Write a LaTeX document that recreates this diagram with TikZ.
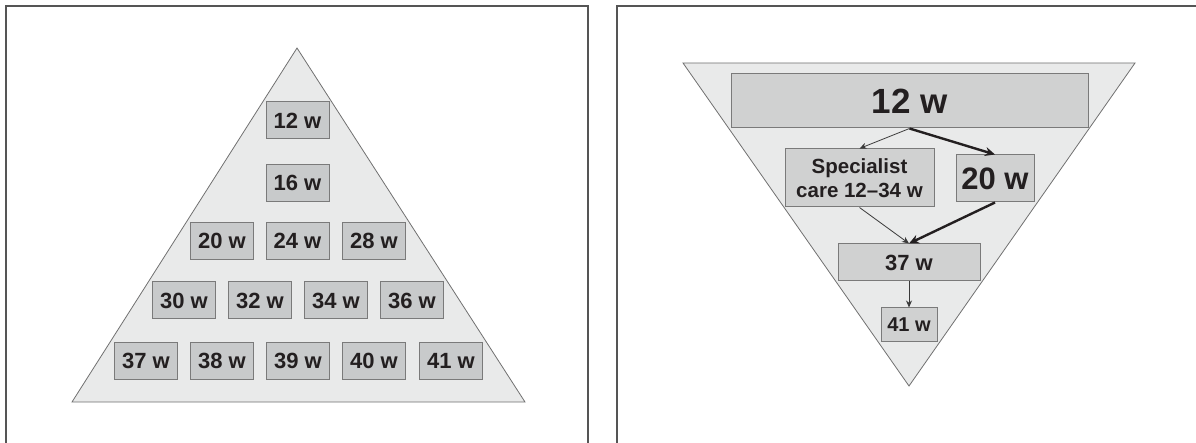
\documentclass[tikz,border=0pt]{standalone}
\usepackage{fontspec}
\setmainfont{Liberation Sans}
\usetikzlibrary{arrows.meta}
\definecolor{framec}{HTML}{555555}
\definecolor{trifill}{HTML}{E9EAEA}
\definecolor{triline}{HTML}{707070}
\definecolor{boxfillL}{HTML}{C8CACB}
\definecolor{boxfillR}{HTML}{D0D1D1}
\definecolor{boxline}{HTML}{7A7A7A}
\definecolor{txt}{HTML}{231F20}
\definecolor{thinarrow}{HTML}{3A3A3A}
\tikzset{
  framepath/.style={draw=framec, line width=1.4pt},
  tri/.style={draw=triline, fill=trifill, line width=0.8pt, line join=miter},
  wbox/.style={draw=boxline, fill=boxfillL, line width=1pt, inner sep=0pt,
    minimum width=63pt, minimum height=37pt, text=txt,
    font=\fontsize{22}{25}\selectfont\bfseries},
  rbox/.style={draw=boxline, fill=boxfillR, line width=1pt, inner sep=0pt,
    text=txt, align=center},
  thinarr/.style={draw=thinarrow, line width=0.8pt, -{Stealth[length=7pt,width=6pt]}},
  thickarr/.style={draw=txt, line width=2.4pt, -{Stealth[length=10pt,width=9pt]}}
}
\begin{document}
\begin{tikzpicture}[x=1pt,y=-1pt]
\useasboundingbox (0,0) rectangle (1196,443);
% frames
\draw[framepath] (6,445) -- (6,6) -- (588,6) -- (588,445);
\draw[framepath] (617,445) -- (617,6) -- (1198,6);
% left pyramid
\draw[tri] (297,48) -- (525,402) -- (72,402) -- cycle;
\node[wbox] (a12) at (297.5,120.5) {12 w};
\node[wbox] (a16) at (297.5,183) {16 w};
\node[wbox] (a20) at (222,241) {20 w};
\node[wbox] (a24) at (297.5,241) {24 w};
\node[wbox] (a28) at (374,241) {28 w};
\node[wbox] (a30) at (184,300.5) {30 w};
\node[wbox] (a32) at (260,300.5) {32 w};
\node[wbox] (a34) at (336,300.5) {34 w};
\node[wbox] (a36) at (412,300.5) {36 w};
\node[wbox] (a37) at (146,361) {37 w};
\node[wbox] (a38) at (222,361) {38 w};
\node[wbox] (a39) at (298,361) {39 w};
\node[wbox] (a40) at (374,361) {40 w};
\node[wbox] (a41) at (451,361) {41 w};
% right inverted pyramid
\draw[tri] (683,63) -- (1135,63) -- (909,386) -- cycle;
\node[rbox, minimum width=357pt, minimum height=54pt,
  font=\fontsize{35}{40}\selectfont\bfseries] (b12) at (909.5,101) {12 w};
\node[rbox, minimum width=149pt, minimum height=58pt,
  font=\fontsize{20.5}{24}\selectfont\bfseries] (bsp) at (859.5,178) {Specialist\\care 12–34 w};
\node[rbox, minimum width=78pt, minimum height=47pt,
  font=\fontsize{31}{36}\selectfont\bfseries] (b20) at (995,178.5) {20 w};
\node[rbox, minimum width=142pt, minimum height=37pt,
  font=\fontsize{22}{26}\selectfont\bfseries] (b37) at (909,262.5) {37 w};
\node[rbox, minimum width=56pt, minimum height=34pt,
  font=\fontsize{20}{24}\selectfont\bfseries] (b41) at (909,325) {41 w};
% connectors
\draw[thinarr] (b12.south) -- (bsp.north);
\draw[thickarr] (b12.south) -- (b20.north);
\draw[thinarr] (bsp.south) -- (b37.north);
\draw[thickarr] (b20.south) -- (b37.north);
\draw[thinarr] (b37.south) -- (b41.north);
\end{tikzpicture}
\end{document}
